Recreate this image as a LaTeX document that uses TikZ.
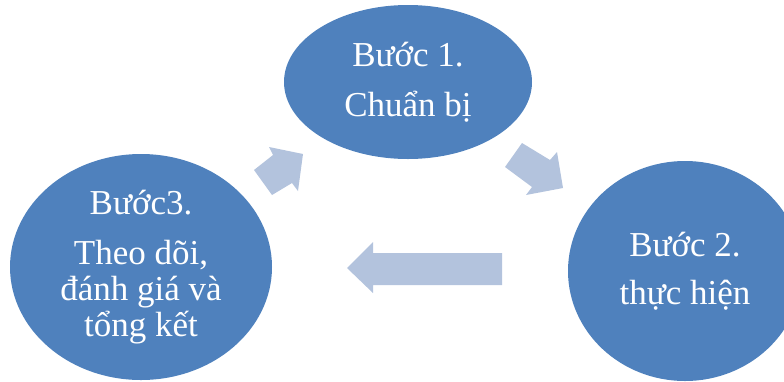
\documentclass[tikz,border=0pt]{standalone}
\usepackage{fontspec}
\setmainfont{Liberation Serif}
\usetikzlibrary{shapes.geometric}
\definecolor{stepblue}{HTML}{4F81BD}
\definecolor{arrowblue}{HTML}{B3C3DD}
\begin{document}
\begin{tikzpicture}[x=1pt,y=-1pt,
  stepnode/.style={ellipse, fill=stepblue, inner sep=0pt, text=white, align=center,
    font=\fontsize{35}{36}\selectfont},
  blockarrow/.style={fill=arrowblue}]
\useasboundingbox (0,0) rectangle (784,381);
\node[stepnode, minimum width=248pt, minimum height=154pt] (s1) at (408,82)
  {Bước 1.\\[14pt]Chuẩn bị};
\node[stepnode, minimum width=234pt, minimum height=220pt] (s2) at (685,271)
  {Bước 2.\\[12pt]thực hiện};
\node[stepnode, minimum width=262pt, minimum height=226pt] (s3) at (141,267)
  {Bước3.\\[14pt]Theo dõi,\\đánh giá và\\tổng kết};
% block arrows
\fill[blockarrow] (254,170) -- (273,155) -- (269,147) -- (303,154) -- (298,191) -- (292,183) -- (272,195) -- cycle;
\fill[blockarrow] (522,143) -- (550,160) -- (557,152) -- (563,188) -- (526,195) -- (532,187) -- (505,167) -- cycle;
\fill[blockarrow] (502,253) -- (502,285) -- (373,285) -- (373,293) -- (347,268) -- (373,242) -- (373,253) -- cycle;
\end{tikzpicture}
\end{document}
